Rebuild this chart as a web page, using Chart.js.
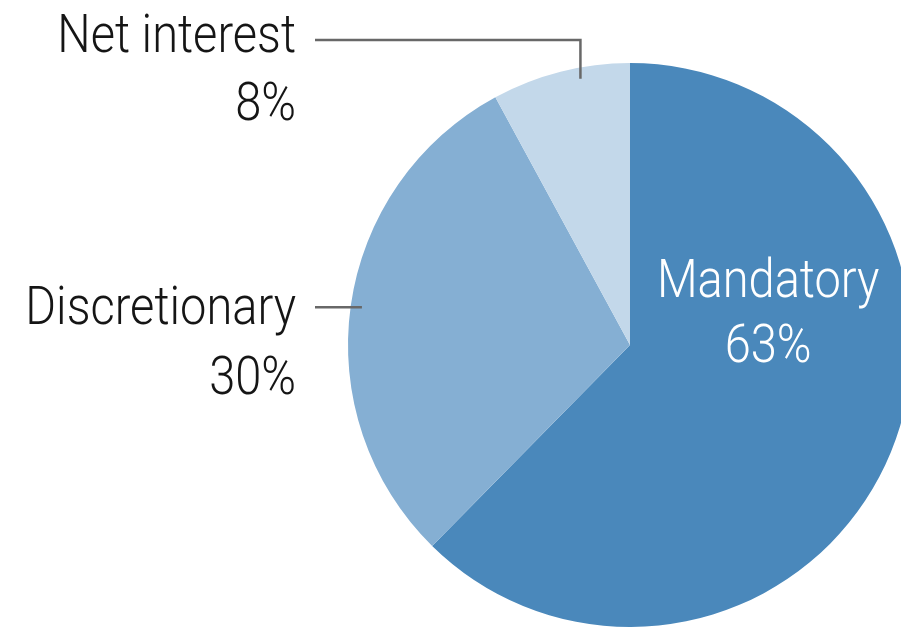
<!DOCTYPE html>
<html>
<head>
<meta charset="utf-8">
<script src="https://cdn.jsdelivr.net/npm/chart.js@4"></script>
<style>
  html, body { margin: 0; padding: 0; background: #fff; overflow: hidden; }
  #wrap { width: 1260px; height: 628px; }
</style>
</head>
<body>
<div id="wrap"><canvas id="pie" width="1260" height="628"></canvas></div>
<script>
const categories = ['Mandatory', 'Discretionary', 'Net interest'];
const shares = [63, 30, 8];
const shareLabels = ['63%', '30%', '8%'];
const sliceColors = ['#4a88bb', '#85afd3', '#c3d8ea'];

const FONT = '300 54px "Roboto", sans-serif';
const SQUEEZE = 0.87; // the original uses a condensed face

function drawText(ctx, str, x, y, align) {
  ctx.save();
  ctx.translate(x, y);
  ctx.scale(SQUEEZE, 1);
  ctx.textAlign = align;
  ctx.fillText(str, 0, 0);
  ctx.restore();
}

// draws the three labels and the two leader lines
const labelPlugin = {
  id: 'pieLabels',
  afterDraw(chart) {
    const ctx = chart.ctx;
    const arcs = chart.getDatasetMeta(0).data;
    const a0 = arcs[0];
    const cx = a0.x, cy = a0.y, R = a0.outerRadius;
    const textRight = cx - R - 52;
    const lineStart = cx - R - 33;

    ctx.save();
    ctx.font = FONT;
    ctx.textBaseline = 'alphabetic';

    // Mandatory, inside the slice
    ctx.fillStyle = '#ffffff';
    drawText(ctx, categories[0], cx + 0.49 * R, cy - 0.17 * R, 'center');
    drawText(ctx, shareLabels[0], cx + 0.49 * R, cy + 0.06 * R, 'center');

    ctx.strokeStyle = '#686868';
    ctx.lineWidth = 2.5;
    ctx.fillStyle = '#151515';

    // Discretionary, line to the middle of the slice
    const d = arcs[1];
    const dMid = (d.startAngle + d.endAngle) / 2;
    const dx = cx + Math.cos(dMid) * R * 0.96;
    const dy = cy + Math.sin(dMid) * R * 0.96;
    ctx.beginPath();
    ctx.moveTo(lineStart, dy);
    ctx.lineTo(dx, dy);
    ctx.stroke();
    drawText(ctx, categories[1], textRight, dy + 17, 'right');
    drawText(ctx, shareLabels[1], textRight, dy + 87, 'right');

    // Net interest, elbow line
    const n = arcs[2];
    const nAng = n.startAngle + (n.endAngle - n.startAngle) * 0.63;
    const nx = cx + Math.cos(nAng) * R * 0.96;
    const ny = cy + Math.sin(nAng) * R * 0.96;
    const topY = cy - R - 23;
    ctx.beginPath();
    ctx.moveTo(lineStart, topY);
    ctx.lineTo(nx, topY);
    ctx.lineTo(nx, ny);
    ctx.stroke();
    drawText(ctx, categories[2], textRight, topY + 12, 'right');
    drawText(ctx, shareLabels[2], textRight, topY + 80, 'right');
    ctx.restore();
  }
};

new Chart(document.getElementById('pie').getContext('2d'), {
  type: 'pie',
  data: {
    labels: categories,
    datasets: [{
      data: shares,
      backgroundColor: sliceColors,
      borderWidth: 0
    }]
  },
  options: {
    responsive: false,
    animation: false,
    layout: { padding: { top: 63, bottom: 1, left: 0, right: 0 } },
    plugins: {
      legend: { display: false },
      tooltip: { enabled: false }
    }
  },
  plugins: [labelPlugin]
});
</script>
</body>
</html>
